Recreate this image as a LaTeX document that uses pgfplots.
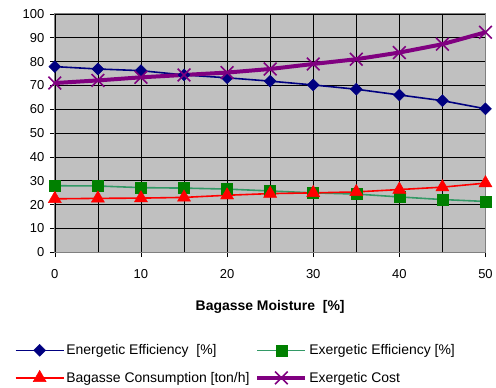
\documentclass[border=0pt]{standalone}
\usepackage{pgfplots}
\pgfplotsset{compat=1.18}
\usepackage{fontspec}
\setmainfont{Liberation Sans}
\definecolor{navyc}{RGB}{0,0,128}
\definecolor{seag}{RGB}{51,153,102}
\definecolor{darkg}{RGB}{0,128,0}
\definecolor{purp}{RGB}{128,0,128}
\definecolor{bggray}{RGB}{192,192,192}
\begin{document}
\begin{tikzpicture}[x=1pt,y=1pt]
\begin{axis}[name=ax,
  scale only axis, width=432pt, height=239pt,
  xmin=0, xmax=50, ymin=0, ymax=100,
  xtick={0,10,...,50}, minor xtick={5,15,...,45},
  ytick={0,10,...,100},
  grid=both, major grid style={black, line width=0.6pt}, minor grid style={black, line width=0.6pt},
  axis background/.style={fill=bggray},
  axis line style={gray, line width=1pt},
  tick style={black, line width=0.6pt},
  major tick length=5pt, minor tick length=0pt,
  tick align=outside, xtick pos=bottom, ytick pos=left,
  /pgf/number format/assume math mode=true,
  ticklabel style={font=\fontsize{13}{15}\selectfont},
  xlabel={\textbf{Bagasse Moisture\ \ [\%]}},
  xlabel style={font=\fontsize{14}{16}\selectfont, yshift=-15pt},
  xticklabel style={yshift=-9pt},
  yticklabel style={xshift=-2pt},
  legend columns=2,
  legend style={at={(-0.1,-0.37)}, anchor=north west, draw=none, fill=none,
    font=\fontsize{14}{16}\selectfont, row sep=12pt,
    /tikz/every even column/.append style={column sep=4pt}},
  legend cell align=left,
  legend image code/.code={\draw[mark repeat=2,mark phase=2] plot coordinates {(0pt,0pt) (24pt,0pt) (48pt,0pt)};},
]
\addplot[navyc, line width=1.6pt, mark=square*, mark size=4.2pt, mark options={fill=navyc, rotate=45, line width=0.5pt}] coordinates {
(0,77.9)(5,76.9)(10,76.2)(15,74.4)(20,73.2)(25,71.8)(30,70.2)(35,68.4)(40,66.0)(45,63.6)(50,60.2)};
\addlegendentry{Energetic Efficiency\ \ [\%]}
\addplot[seag, line width=1.6pt, mark=square*, mark size=5.5pt, mark options={fill=darkg, draw=darkg, line width=0.5pt}] coordinates {
(0,27.9)(5,27.8)(10,27.1)(15,26.9)(20,26.5)(25,25.7)(30,24.9)(35,24.4)(40,23.2)(45,22.1)(50,21.3)};
\addlegendentry{Exergetic Efficiency [\%]}
\addplot[red, line width=1.6pt, mark=triangle*, mark size=7.5pt, mark options={fill=red, line width=0.5pt}] coordinates {
(0,22.4)(5,22.6)(10,22.7)(15,23.0)(20,23.9)(25,24.6)(30,24.9)(35,25.3)(40,26.3)(45,27.3)(50,29.0)};
\addlegendentry{Bagasse Consumption [ton/h]}
\addplot[purp, line width=4pt, mark=x, mark size=9pt, mark options={line width=1.6pt}] coordinates {
(0,71.0)(5,72.1)(10,73.4)(15,74.4)(20,75.4)(25,76.9)(30,79.0)(35,81.0)(40,83.8)(45,87.3)(50,92.3)};
\addlegendentry{Exergetic Cost}
\end{axis}
\path (ax.south west) ++(-55pt,-134pt) rectangle ++(496pt,387pt);
\end{tikzpicture}
\end{document}
